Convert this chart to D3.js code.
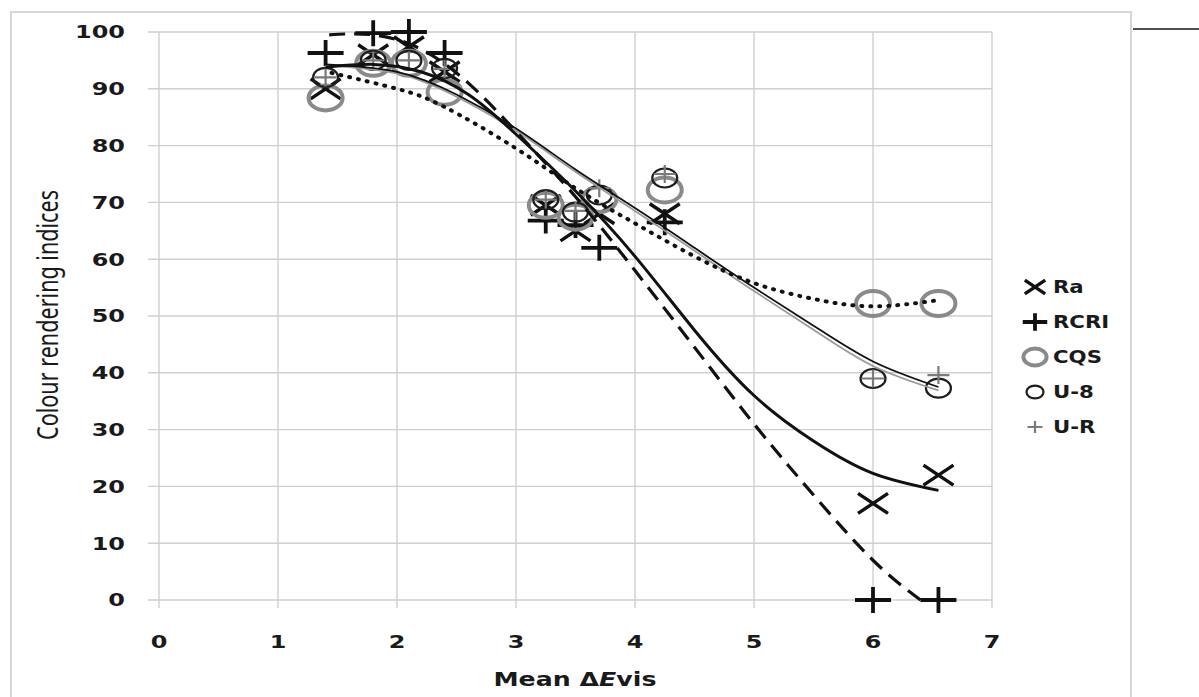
<!DOCTYPE html>
<html>
<head>
<meta charset="utf-8">
<script src="https://cdn.jsdelivr.net/npm/d3@7"></script>
<style>
  html, body { margin: 0; padding: 0; background: #fff; }
  svg { display: block; }
</style>
</head>
<body>
<svg id="chart" width="1199" height="697"></svg>
<script>
// Mean ΔEvis of each light source
const meanDeltaE = [1.4, 1.8, 2.1, 2.4, 3.25, 3.5, 3.7, 4.25, 6.0, 6.55];

// Colour rendering indices per source
const ra   = [90, 96, 97.4, 93, 69.5, 65, 68, 68, 17, 22];
const rcri = [96.3, 99.8, 100, 96.3, 66.8, 66, 62, 66.5, 0, 0];
const cqs  = [88.4, 94.5, 94.5, 89.4, 69.5, 67.4, 70.5, 72.2, 52.2, 52.2];
const u8   = [92, 95, 95, 93.6, 70.5, 68.3, 71.3, 74.3, 39, 37.3];
const ur   = [92, 95, 95, 93.5, 70.5, 68.5, 72.5, 75, 39, 39.6];

// Fitted trend lines, sampled along Mean ΔEvis
const raTrendX   = [1.4, 1.8, 2.2, 2.6, 3.0, 3.5, 4.0, 4.5, 5.0, 5.5, 6.0, 6.55];
const raTrendY   = [93.8, 94.3, 93, 89, 82, 72, 60.5, 47.5, 36, 28, 22.3, 19.3];
const rcriTrendX = [1.43, 1.8, 2.2, 2.6, 3.0, 3.5, 4.0, 4.5, 5.0, 5.5, 6.0, 6.4];
const rcriTrendY = [99.5, 99.5, 97, 91, 82.5, 71, 58, 44.5, 31, 18.5, 7, 0];
const cqsTrendX  = [1.45, 2.0, 2.4, 3.0, 3.5, 4.0, 4.5, 5.0, 5.5, 6.0, 6.55];
const cqsTrendY  = [92.8, 90, 86.8, 79.5, 72.5, 66.3, 60.5, 55.8, 53, 51.7, 52.8];
const u8TrendX   = [1.4, 2.0, 2.5, 3.0, 3.5, 4.0, 4.5, 5.0, 5.5, 6.0, 6.55];
const u8TrendY   = [94.3, 93, 89, 83, 75.8, 69, 62, 55, 48.3, 42, 37.5];
const urTrendY   = [94.1, 92.7, 88.6, 82.6, 75.4, 68.5, 61.5, 54.4, 47.6, 41.2, 36.9];

// Axis ticks
const xTicks = [0, 1, 2, 3, 4, 5, 6, 7];
const yTicks = [0, 10, 20, 30, 40, 50, 60, 70, 80, 90, 100];

const legendLabels = ["Ra", "RCRI", "CQS", "U-8", "U-R"];

const svg = d3.select("#chart");
const x = d3.scaleLinear().domain([0, 7]).range([159, 992]);
const y = d3.scaleLinear().domain([0, 100]).range([600, 32]);

const STRETCH = 1.33;
const gridColor = "#cfcfcf";

// outer frame
svg.append("rect").attr("x", 11).attr("y", 12).attr("width", 1120).attr("height", 720)
  .attr("fill", "none").attr("stroke", "#d6d6d6").attr("stroke-width", 2);
svg.append("line").attr("x1", 1133).attr("x2", 1199).attr("y1", 29).attr("y2", 29)
  .attr("stroke", "#505050").attr("stroke-width", 2);

// gridlines
const grid = svg.append("g");
grid.selectAll("line.h").data(yTicks).join("line")
  .attr("x1", 148).attr("x2", x(7))
  .attr("y1", d => y(d)).attr("y2", d => y(d))
  .attr("stroke", gridColor).attr("stroke-width", 1.4);
grid.selectAll("line.v").data(xTicks).join("line")
  .attr("x1", d => x(d)).attr("x2", d => x(d))
  .attr("y1", y(100)).attr("y2", 608)
  .attr("stroke", gridColor).attr("stroke-width", 1.4);

// tick labels (wide bold face)
const labelFont = "'DejaVu Sans', Verdana, sans-serif";
svg.append("g").selectAll("g").data(yTicks).join("g")
  .attr("transform", d => `translate(125,${y(d)}) scale(${STRETCH},1)`)
  .append("text")
  .attr("text-anchor", "end").attr("dy", "0.36em")
  .attr("font-family", labelFont).attr("font-weight", "bold").attr("font-size", 18)
  .attr("fill", "#1a1a1a")
  .text(d => d);
svg.append("g").selectAll("g").data(xTicks).join("g")
  .attr("transform", d => `translate(${x(d)},648) scale(${STRETCH},1)`)
  .append("text")
  .attr("text-anchor", "middle")
  .attr("font-family", labelFont).attr("font-weight", "bold").attr("font-size", 18)
  .attr("fill", "#1a1a1a")
  .text(d => d);

// axis titles
const xt = svg.append("g").attr("transform", `translate(575,686) scale(${STRETCH},1)`)
  .append("text").attr("text-anchor", "middle")
  .attr("font-family", labelFont).attr("font-weight", "bold").attr("font-size", 19)
  .attr("fill", "#1a1a1a");
xt.append("tspan").text("Mean \u0394");
xt.append("tspan").attr("font-style", "italic").text("E");
xt.append("tspan").text("vis");

svg.append("g").attr("transform", `translate(58,315) scale(${STRETCH},1) rotate(-90)`)
  .append("text").attr("text-anchor", "middle")
  .attr("font-family", "'Noto Sans', 'Open Sans', sans-serif").attr("font-size", 22)
  .attr("textLength", 250).attr("lengthAdjust", "spacingAndGlyphs")
  .attr("fill", "#1a1a1a")
  .text("Colour rendering indices");

// marker shapes
function crossX(g, cx, cy, hw, hh, color, w) {
  g.append("path")
    .attr("d", `M${cx - hw},${cy - hh}L${cx + hw},${cy + hh}M${cx - hw},${cy + hh}L${cx + hw},${cy - hh}`)
    .attr("stroke", color).attr("stroke-width", w).attr("fill", "none");
}
function plus(g, cx, cy, hw, hh, color, w) {
  g.append("path")
    .attr("d", `M${cx - hw},${cy}L${cx + hw},${cy}M${cx},${cy - hh}L${cx},${cy + hh}`)
    .attr("stroke", color).attr("stroke-width", w).attr("fill", "none");
}
function ring(g, cx, cy, rx, ry, color, w) {
  g.append("ellipse").attr("cx", cx).attr("cy", cy).attr("rx", rx).attr("ry", ry)
    .attr("stroke", color).attr("stroke-width", w).attr("fill", "none");
}

const series = [
  { name: "Ra",   values: ra,   draw: (g, cx, cy, s) => crossX(g, cx, cy, 15 * s, 10 * s, "#111", 3.4) },
  { name: "RCRI", values: rcri, draw: (g, cx, cy, s) => plus(g, cx, cy, 18 * s, 13 * s, "#111", 3.8) },
  { name: "CQS",  values: cqs,  draw: (g, cx, cy, s) => ring(g, cx, cy, 17 * s, 12.5 * s, "#8a8a8a", 4) },
  { name: "U-8",  values: u8,   draw: (g, cx, cy, s) => ring(g, cx, cy, 12.5 * s, 9.5 * s, "#1e1e1e", 2.2) },
  { name: "U-R",  values: ur,   draw: (g, cx, cy, s) => plus(g, cx, cy, 11 * s, 9 * s, "#7a7a7a", 2.2) }
];

const markers = svg.append("g");
series.forEach(sr => {
  sr.values.forEach((v, i) => sr.draw(markers, x(meanDeltaE[i]), y(v), 1));
});

// trend lines
const lineGen = d3.line().x(d => x(d[0])).y(d => y(d[1])).curve(d3.curveNatural);
const trends = svg.append("g").attr("fill", "none");
trends.append("path").attr("d", lineGen(d3.zip(u8TrendX, urTrendY)))
  .attr("stroke", "#9a9a9a").attr("stroke-width", 1.8);
trends.append("path").attr("d", lineGen(d3.zip(u8TrendX, u8TrendY)))
  .attr("stroke", "#111").attr("stroke-width", 1.8);
trends.append("path").attr("d", lineGen(d3.zip(cqsTrendX, cqsTrendY)))
  .attr("stroke", "#111").attr("stroke-width", 4)
  .attr("stroke-dasharray", "1,8").attr("stroke-linecap", "round");
trends.append("path").attr("d", lineGen(d3.zip(rcriTrendX, rcriTrendY)))
  .attr("stroke", "#111").attr("stroke-width", 3.2)
  .attr("stroke-dasharray", "16,9");
trends.append("path").attr("d", lineGen(d3.zip(raTrendX, raTrendY)))
  .attr("stroke", "#111").attr("stroke-width", 3);

// legend
const legendY = d3.scalePoint().domain(legendLabels).range([287, 427]);
const legend = svg.append("g");
series.forEach(sr => {
  const cy = legendY(sr.name);
  sr.draw(legend, 1035, cy, 0.68);
  legend.append("g").attr("transform", `translate(1053,${cy}) scale(1.25,1)`)
    .append("text").attr("dy", "0.36em")
    .attr("font-family", labelFont).attr("font-weight", "bold").attr("font-size", 17)
    .attr("fill", "#1a1a1a").text(sr.name);
});
</script>
</body>
</html>
